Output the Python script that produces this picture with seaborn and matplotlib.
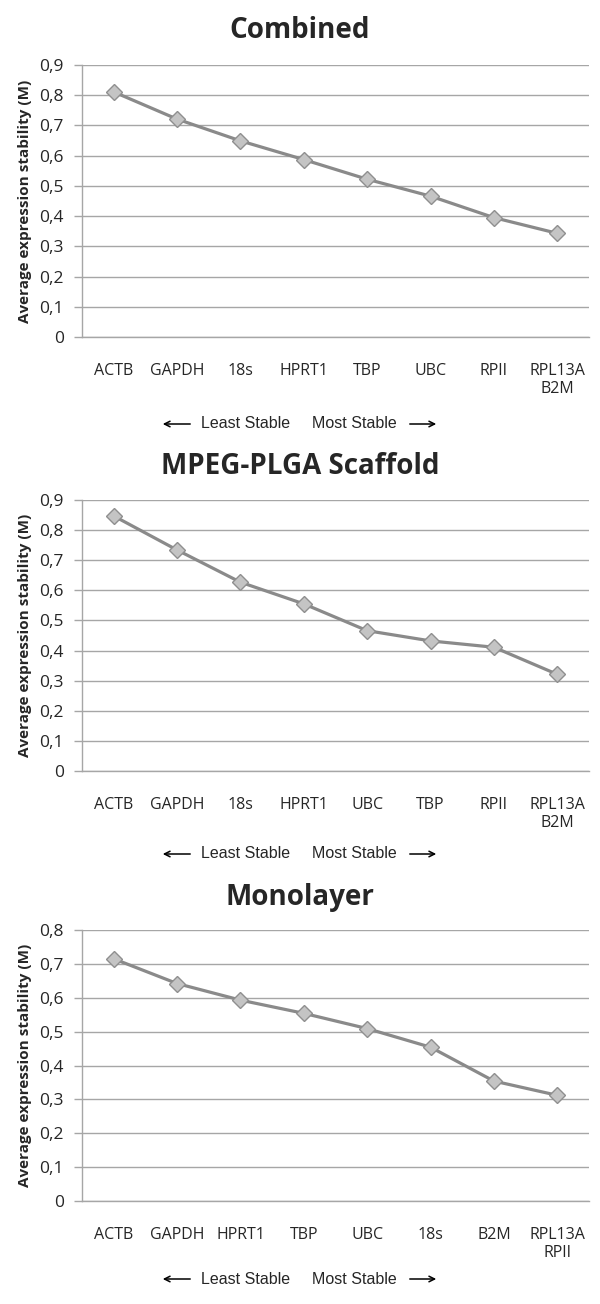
import numpy as np
import pandas as pd
import matplotlib
matplotlib.use('Agg')
import matplotlib.pyplot as plt
import seaborn as sns

# Data (gene order = least stable -> most stable)
combined_genes = ['ACTB', 'GAPDH', '18s', 'HPRT1', 'TBP', 'UBC', 'RPII', 'RPL13A\nB2M']
combined_vals = [0.811, 0.721, 0.649, 0.587, 0.522, 0.466, 0.395, 0.343]

scaffold_genes = ['ACTB', 'GAPDH', '18s', 'HPRT1', 'UBC', 'TBP', 'RPII', 'RPL13A\nB2M']
scaffold_vals = [0.847, 0.734, 0.627, 0.555, 0.466, 0.432, 0.411, 0.321]

mono_genes = ['ACTB', 'GAPDH', 'HPRT1', 'TBP', 'UBC', '18s', 'B2M', 'RPL13A\nRPII']
mono_vals = [0.715, 0.642, 0.593, 0.554, 0.509, 0.454, 0.354, 0.312]

titles = ['Combined', 'MPEG-PLGA Scaffold', 'Monolayer']
ymax = [0.9, 0.9, 0.8]

sns.set_theme(style="white")
plt.rcParams['font.family'] = ['Open Sans', 'DejaVu Sans']

W, H = 600, 1304
fig = plt.figure(figsize=(W / 100, H / 100), dpi=100)

# pixel layout: (axes top, axes bottom, title y, arrow-text y)
layout = [(65, 337, 30, 424), (500, 771, 467, 854), (930, 1201, 897, 1279)]
ax_left, ax_right = 82, 589

grey = '#8a8a8a'
grid_c = '#a6a6a6'

datasets = [(combined_genes, combined_vals), (scaffold_genes, scaffold_vals), (mono_genes, mono_vals)]

for (genes, vals), title, ym, (top, bot, ty, ay) in zip(datasets, titles, ymax, layout):
    ax = fig.add_axes([ax_left / W, 1 - bot / H, (ax_right - ax_left) / W, (bot - top) / H])
    df = pd.DataFrame({'pos': np.arange(len(genes)), 'M': vals})
    sns.lineplot(data=df, x='pos', y='M', ax=ax, color=grey, linewidth=2.3,
                 marker='D', markersize=8.5, markerfacecolor='#c4c4c4',
                 markeredgecolor='#8f8f8f', markeredgewidth=1.0)

    ax.set_xlim(-0.5, len(genes) - 0.5)
    ax.set_ylim(0, ym)
    ax.set_yticks(np.round(np.arange(0, ym + 0.001, 0.1), 1))
    ax.set_yticklabels([('0' if v == 0 else f'{v:.1f}'.replace('.', ',')) for v in ax.get_yticks()],
                       fontsize=12.5)
    ax.set_xticks(np.arange(len(genes)))
    ax.set_xticklabels(genes, fontsize=11.5, linespacing=1.15)
    ax.set_xticks(np.arange(-0.5, len(genes)), minor=True)
    ax.tick_params(axis='x', which='major', length=0, pad=19)
    ax.tick_params(axis='x', which='minor', length=6, color=grid_c, width=1)
    ax.tick_params(axis='y', length=6, color=grid_c, width=1, pad=7, left=True)
    ax.yaxis.grid(True, color=grid_c, linewidth=1)
    ax.xaxis.grid(False)
    for s in ['top', 'right']:
        ax.spines[s].set_visible(False)
    for s in ['left', 'bottom']:
        ax.spines[s].set_color(grid_c)
        ax.spines[s].set_linewidth(1)
    ax.set_xlabel('')
    ax.set_ylabel('Average expression stability (M)', fontsize=11, fontweight='bold')
    ax.yaxis.set_label_coords((32 - ax_left) / (ax_right - ax_left), 0.5)
    ax.set_axisbelow(True)

    fig.text(300 / W, 1 - ty / H, title, fontsize=20, fontweight='bold', ha='center', va='center')

    # direction note under the x axis
    fig.text(201 / W, 1 - ay / H, 'Least Stable', fontsize=11.5, family='Liberation Sans',
             ha='left', va='center')
    fig.text(312 / W, 1 - ay / H, 'Most Stable', fontsize=11.5, family='Liberation Sans',
             ha='left', va='center')
    arrow = dict(arrowstyle='->', color='black', lw=1.1, mutation_scale=10)
    fig.add_artist(matplotlib.patches.FancyArrowPatch((193 / W, 1 - ay / H), (160 / W, 1 - ay / H),
                                                      transform=fig.transFigure, **arrow))
    fig.add_artist(matplotlib.patches.FancyArrowPatch((407 / W, 1 - ay / H), (439 / W, 1 - ay / H),
                                                      transform=fig.transFigure, **arrow))

plt.savefig('out.png', dpi=100)
plt.close()
